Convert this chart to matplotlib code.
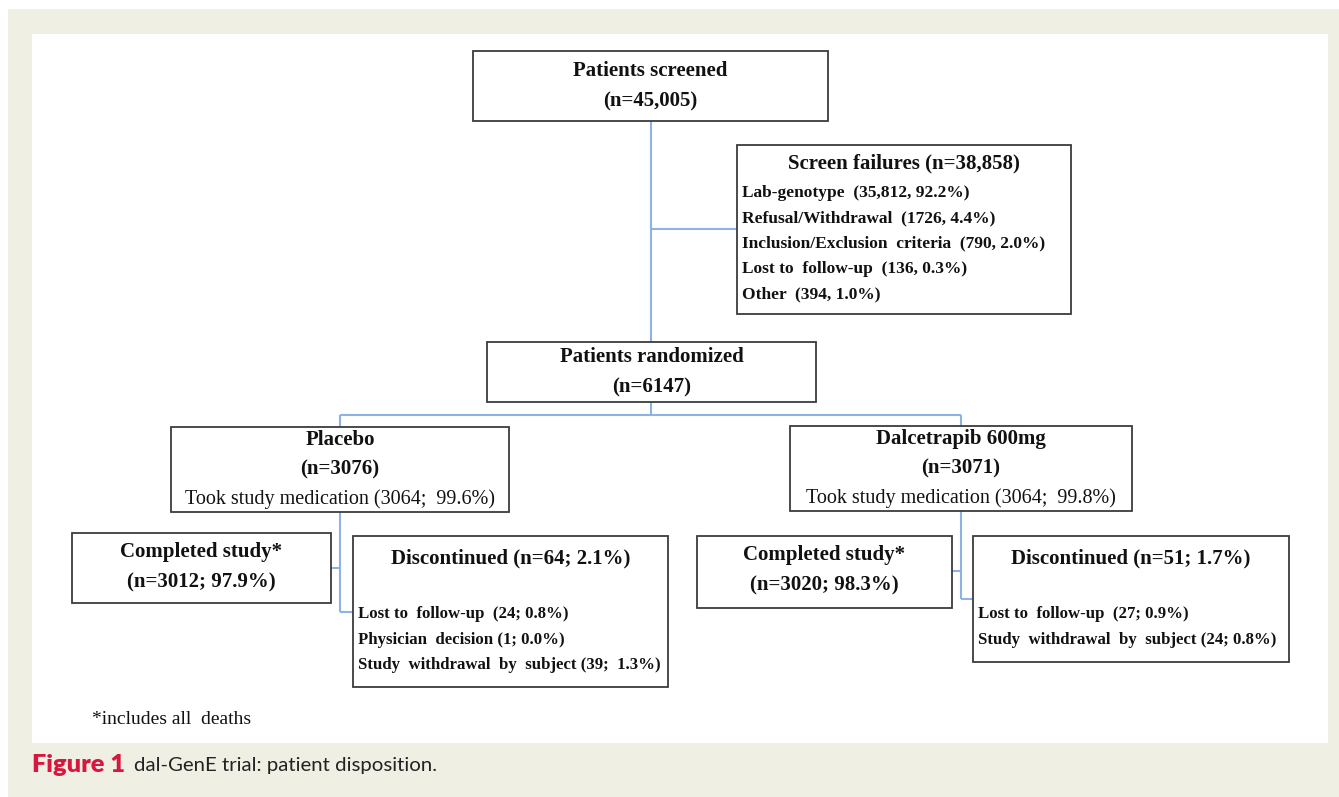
import matplotlib
matplotlib.use("Agg")
import matplotlib.pyplot as plt
from matplotlib.patches import Rectangle

# flowchart text content
screened = ["Patients screened", "(n=45,005)"]
failures_title = "Screen failures (n=38,858)"
failures_items = ["Lab-genotype  (35,812, 92.2%)",
                  "Refusal/Withdrawal  (1726, 4.4%)",
                  "Inclusion/Exclusion  criteria  (790, 2.0%)",
                  "Lost to  follow-up  (136, 0.3%)",
                  "Other  (394, 1.0%)"]
randomized = ["Patients randomized", "(n=6147)"]
arm_names = ["Placebo", "Dalcetrapib 600mg"]
arm_n = ["(n=3076)", "(n=3071)"]
arm_took = ["Took study medication (3064;  99.6%)",
            "Took study medication (3064;  99.8%)"]
completed = [["Completed study*", "(n=3012; 97.9%)"],
             ["Completed study*", "(n=3020; 98.3%)"]]
disc_titles = ["Discontinued (n=64; 2.1%)", "Discontinued (n=51; 1.7%)"]
disc_items = [["Lost to  follow-up  (24; 0.8%)",
               "Physician  decision (1; 0.0%)",
               "Study  withdrawal  by  subject (39;  1.3%)"],
              ["Lost to  follow-up  (27; 0.9%)",
               "Study  withdrawal  by  subject (24; 0.8%)"]]
footnote = "*includes all  deaths"
caption_bold = "Figure 1"
caption_rest = "dal-GenE trial: patient disposition."

# box layout in pixels: x0, y0, x1, y1
boxes = {
    "screened": (473, 51, 828, 121),
    "failures": (737, 145, 1071, 314),
    "randomized": (487, 342, 816, 402),
    "arm0": (171, 427, 509, 512),
    "arm1": (790, 426, 1132, 511),
    "comp0": (72, 533, 331, 603),
    "comp1": (697, 536, 952, 608),
    "disc0": (353, 536, 668, 687),
    "disc1": (973, 536, 1289, 662),
}

BEIGE = "#EFEFE3"
LINE = "#8DB3E2"
EDGE = "#3C3C3C"
RED = "#D7173F"
SERIF = ["Liberation Serif", "DejaVu Serif"]

fig = plt.figure(figsize=(13.39, 7.97), dpi=100)
fig.patch.set_facecolor("white")
ax = fig.add_axes([0, 0, 1, 1])
ax.set_xlim(0, 1339)
ax.set_ylim(797, 0)
ax.axis("off")

# page background and white panel
ax.add_patch(Rectangle((8, 9), 1331, 788, facecolor=BEIGE, edgecolor="none"))
ax.add_patch(Rectangle((32, 34), 1296, 709, facecolor="white", edgecolor="none"))


def box(key):
    x0, y0, x1, y1 = boxes[key]
    ax.add_patch(Rectangle((x0, y0), x1 - x0, y1 - y0, facecolor="white",
                           edgecolor=EDGE, lw=1.3, zorder=3))


def line(xs, ys):
    ax.plot(xs, ys, color=LINE, lw=1.5, zorder=2, solid_capstyle="butt")


def txt(x, y, s, size=15, bold=True, ha="center"):
    ax.text(x, y, s, ha=ha, va="center", fontsize=size, family=SERIF,
            fontweight="bold" if bold else "normal", color="#111111", zorder=4)


# connectors
trunk_x = 651
line([trunk_x, trunk_x], [121, 342])
line([trunk_x, 737], [229, 229])
line([trunk_x, trunk_x], [402, 415])
line([340, 961], [415, 415])
line([340, 340], [415, 427])
line([961, 961], [415, 426])
# placebo branch
line([340, 340], [512, 612])
line([331, 340], [568, 568])
line([340, 353], [612, 612])
# dalcetrapib branch
line([961, 961], [511, 599])
line([952, 961], [571, 571])
line([961, 973], [599, 599])

for k in boxes:
    box(k)

# screened
cx = (boxes["screened"][0] + boxes["screened"][2]) / 2
txt(cx, 71, screened[0])
txt(cx, 101, screened[1])

# screen failures
fx0, fy0, fx1, fy1 = boxes["failures"]
txt((fx0 + fx1) / 2, 163, failures_title)
for i, s in enumerate(failures_items):
    txt(fx0 + 5, 192.5 + i * 25.5, s, size=12.5, ha="left")

# randomized
rx = (boxes["randomized"][0] + boxes["randomized"][2]) / 2
txt(rx, 357, randomized[0])
txt(rx, 387, randomized[1])

# arms
for i in range(2):
    a = boxes["arm%d" % i]
    acx = (a[0] + a[2]) / 2
    txt(acx, a[1] + 13, arm_names[i])
    txt(acx, a[1] + 42, arm_n[i])
    txt(acx, a[1] + 72, arm_took[i], size=14.5, bold=False)

    c = boxes["comp%d" % i]
    ccx = (c[0] + c[2]) / 2
    txt(ccx, c[1] + 19, completed[i][0])
    txt(ccx, c[1] + 49, completed[i][1])

    d = boxes["disc%d" % i]
    dcx = (d[0] + d[2]) / 2
    txt(dcx, d[1] + 22, disc_titles[i])
    for j, s in enumerate(disc_items[i]):
        txt(d[0] + 5, d[1] + 78 + j * 25.5, s, size=12.1, ha="left")

txt(92, 720, footnote, size=14, bold=False, ha="left")

# caption
cap = ax.text(32, 765, caption_bold, ha="left", va="center", fontsize=18.3,
              family=["Lato", "DejaVu Sans"], fontweight="heavy", color=RED)
fig.canvas.draw()
bb = cap.get_window_extent()
ax.text(bb.x1 + 9, 766, caption_rest, ha="left", va="center", fontsize=14.7,
        family=["Lato", "DejaVu Sans"], color="#222222")

fig.savefig("out.png", dpi=100, facecolor=fig.get_facecolor())
